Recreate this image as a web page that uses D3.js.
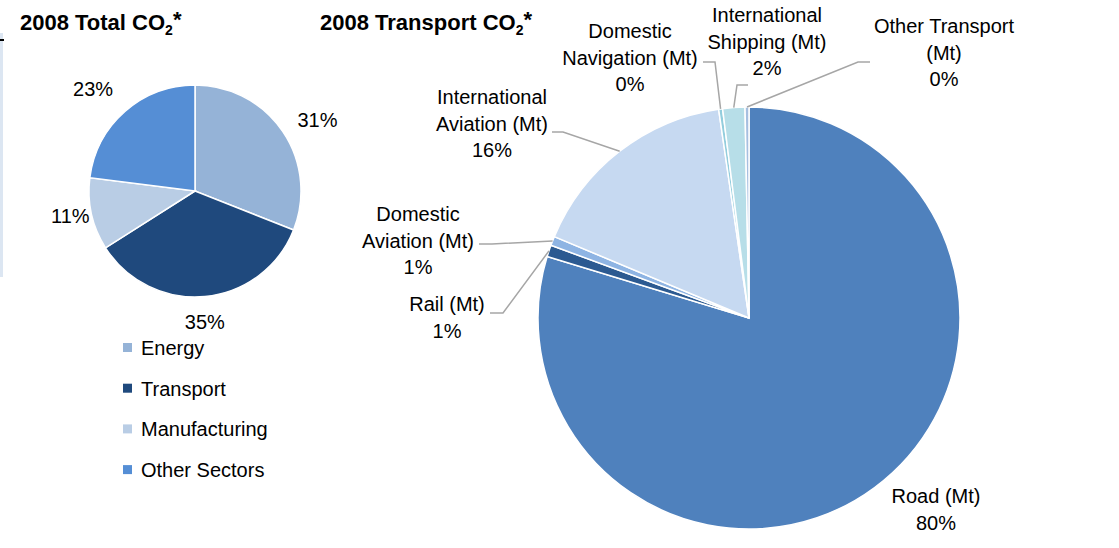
<!DOCTYPE html>
<html>
<head>
<meta charset="utf-8">
<script src="https://cdn.jsdelivr.net/npm/d3@7"></script>
<style>
  body { margin: 0; background: #fff; }
  svg text { font-family: "Liberation Sans Narrow", "Arial Narrow", "Liberation Sans", sans-serif; fill: #000; }
  .lbl { font-size: 20px; }
  .title { font-size: 22px; font-weight: bold; }
  .leader { fill: none; stroke: #a6a6a6; stroke-width: 1.5px; }
</style>
</head>
<body>
<div id="chart"></div>
<script>
// total CO2 by sector (%)
var sectors = ["Energy", "Transport", "Manufacturing", "Other Sectors"];
var sectorShare = [31, 35, 11, 23];
var sectorColors = ["#95b3d7", "#1f497d", "#b9cde5", "#558ed5"];

// transport CO2 split (%)
var modes = ["Road (Mt)", "Rail (Mt)", "Domestic Aviation (Mt)", "International Aviation (Mt)",
             "Domestic Navigation (Mt)", "International Shipping (Mt)", "Other Transport (Mt)"];
var modeShare = [79.7, 0.9, 0.7, 16.4, 0.3, 1.7, 0.3];
var modeColors = ["#4f81bd", "#2c5a91", "#8eb4e3", "#c6d9f1", "#93cddd", "#b7dee8", "#a6bfe0"];
// label text lines (without percentage)
var modeLines = [["Road (Mt)"], ["Rail (Mt)"], ["Domestic", "Aviation (Mt)"], ["International", "Aviation (Mt)"],
                 ["Domestic", "Navigation (Mt)"], ["International", "Shipping (Mt)"], ["Other Transport", "(Mt)"]];

var svg = d3.select("#chart").append("svg").attr("width", 1119).attr("height", 548);

// frame bits at left edge
svg.append("rect").attr("x", 0).attr("y", 33).attr("width", 3).attr("height", 244).attr("fill", "#dce6f2");
svg.append("rect").attr("x", 0).attr("y", 39).attr("width", 4).attr("height", 2).attr("fill", "#000");

function title(x, y, s) {
    var t = svg.append("text").attr("class", "title").attr("x", x).attr("y", y);
    t.append("tspan").text(s);
    t.append("tspan").attr("dy", 5).style("font-size", "14px").text("2");
    t.append("tspan").attr("dy", -8).text("*");
}
title(20, 30, "2008 Total CO");
title(320, 30, "2008 Transport CO");

// ---- small pie
var pie = d3.pie().sort(null).value(function (d) { return d; });
var r1 = 106;
var g1 = svg.append("g").attr("transform", "translate(195,191)");
var arc1 = d3.arc().innerRadius(0).outerRadius(r1);
var arcs1 = pie(sectorShare);

g1.selectAll("path")
        .data(arcs1)
        .enter().append("path")
        .attr("d", arc1)
        .attr("fill", function (d, i) { return sectorColors[i]; })
        .attr("stroke", "#fff")
        .attr("stroke-width", 1.5);

var lblArc1 = d3.arc().innerRadius(136).outerRadius(136);
var tweak1 = [[10, 5], [-3, -4], [8, -5], [-12, 0]];
g1.selectAll("text")
        .data(arcs1)
        .enter().append("text")
        .attr("class", "lbl")
        .attr("text-anchor", "middle")
        .attr("dy", "0.35em")
        .attr("transform", function (d, i) {
            var c = lblArc1.centroid(d);
            return "translate(" + (c[0] + tweak1[i][0]) + "," + (c[1] + tweak1[i][1]) + ")";
        })
        .text(function (d) { return d.data + "%"; });

// legend
var leg = svg.append("g").attr("transform", "translate(123,343)");
var item = leg.selectAll("g").data(sectors).enter().append("g")
        .attr("transform", function (d, i) { return "translate(0," + (i * 40.7) + ")"; });
item.append("rect").attr("width", 9).attr("height", 9)
        .attr("fill", function (d, i) { return sectorColors[i]; });
item.append("text").attr("class", "lbl").attr("x", 18).attr("y", 12).text(function (d) { return d; });

// ---- transport pie
var r2 = 211;
var cx2 = 749, cy2 = 318;
var g2 = svg.append("g").attr("transform", "translate(" + cx2 + "," + cy2 + ")");
var arc2 = d3.arc().innerRadius(0).outerRadius(r2);
var edge2 = d3.arc().innerRadius(r2).outerRadius(r2);
var arcs2 = pie(modeShare);

g2.selectAll("path")
        .data(arcs2)
        .enter().append("path")
        .attr("d", arc2)
        .attr("fill", function (d, i) { return modeColors[i]; })
        .attr("stroke", "#fff")
        .attr("stroke-width", 1.5);

// label placement (page coords of first line baseline centre) and leader elbow
var lblPos = [[936, 503], [447, 311], [418, 221], [492, 104], [630, 38], [767, 22], [944, 33]];
var elbow = [null, [[490, 313], [503, 313]], [[479, 244], [492, 244]], [[552, 132], [563, 132]],
             [[703, 62], [715, 62]], [[748, 85], [737, 85]], [[870, 62], [858, 62]]];

arcs2.forEach(function (d, i) {
    if (elbow[i]) {
        var c = edge2.centroid(d);
        var pts = [elbow[i][0], elbow[i][1], [cx2 + c[0], cy2 + c[1]]];
        svg.append("path").attr("class", "leader").attr("d", d3.line()(pts));
    }
    var t = svg.append("text").attr("class", "lbl").attr("text-anchor", "middle")
            .attr("x", lblPos[i][0]).attr("y", lblPos[i][1]);
    var lines = modeLines[i].concat([Math.round(d.data) + "%"]);
    lines.forEach(function (s, k) {
        t.append("tspan").attr("x", lblPos[i][0]).attr("dy", k === 0 ? 0 : 26.5).text(s);
    });
});
</script>
</body>
</html>
